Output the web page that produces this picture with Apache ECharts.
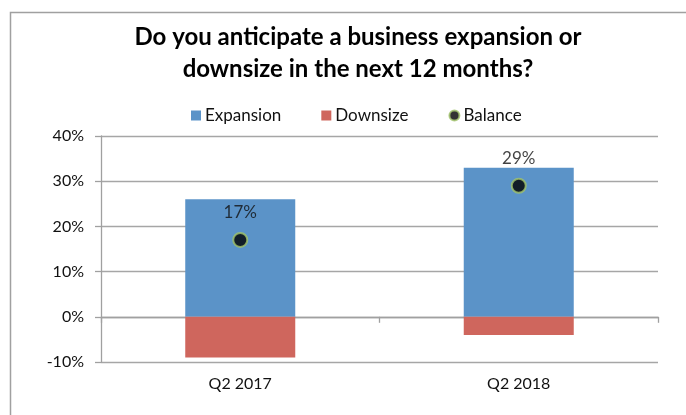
<!DOCTYPE html>
<html>
<head>
<meta charset="utf-8">
<script src="https://cdn.jsdelivr.net/npm/echarts@6/dist/echarts.min.js"></script>
<style>
  html, body { margin: 0; padding: 0; background: #fff; }
  #chart { width: 686px; height: 415px; }
</style>
</head>
<body>
<div id="chart"></div>
<script>
// Survey results per quarter (percent of respondents)
const categories = ['Q2 2017', 'Q2 2018'];
const expansion = [26, 33];
const downsize = [-9, -4];
const balance = [17, 29];
const yTicks = { min: -10, max: 40, step: 10 };

const FONT = 'Lato, "Open Sans", sans-serif';
const chart = echarts.init(document.getElementById('chart'));

chart.setOption({
  animation: false,
  backgroundColor: '#fff',
  textStyle: { fontFamily: FONT },
  graphic: [{
    type: 'rect',
    shape: { x: 10.5, y: 12.5, width: 720, height: 440 },
    style: { fill: 'none', stroke: '#a0a0a0', lineWidth: 1.5 },
    silent: true
  }],
  title: {
    text: 'Do you anticipate a business expansion or\ndownsize in the next 12 months?',
    left: 353,
    textAlign: 'center',
    top: 16,
    textStyle: { fontFamily: FONT, fontWeight: 'bold', fontSize: 24, lineHeight: 32, color: '#000' }
  },
  legend: {
    top: 102,
    left: 186,
    itemWidth: 10,
    itemHeight: 10,
    itemGap: 40,
    textStyle: { fontFamily: FONT, fontSize: 17, color: '#111', padding: [0, 0, 0, -1] },
    data: [
      { name: 'Expansion', icon: 'rect' },
      { name: 'Downsize', icon: 'rect' },
      { name: 'Balance', icon: 'circle' }
    ]
  },
  grid: { left: 101, right: 28, top: 136, bottom: 53 },
  xAxis: [{
    type: 'category',
    data: categories,
    position: 'bottom',
    axisLine: { show: false, onZero: false },
    axisTick: { show: false },
    axisLabel: { fontFamily: FONT, fontSize: 16, color: '#111', margin: 14 }
  }, {
    type: 'category',
    data: categories,
    position: 'bottom',
    axisLine: { show: true, onZero: true, lineStyle: { color: '#a0a0a0', width: 1.3 } },
    axisTick: { show: true, length: 6, lineStyle: { color: '#a0a0a0', width: 1.3 } },
    axisLabel: { show: false }
  }],
  yAxis: {
    type: 'value',
    min: yTicks.min,
    max: yTicks.max,
    interval: yTicks.step,
    axisLine: { show: true, lineStyle: { color: '#a0a0a0', width: 1.3 } },
    axisTick: { show: true, length: 6, lineStyle: { color: '#a0a0a0', width: 1.3 } },
    axisLabel: { formatter: '{value}%', fontFamily: FONT, fontSize: 16, color: '#111', margin: 17 },
    splitLine: { show: true, lineStyle: { color: '#a6a6a6', width: 1.3 } }
  },
  series: [{
    name: 'Expansion',
    type: 'bar',
    stack: 'total',
    barWidth: '39.5%',
    data: expansion,
    itemStyle: { color: '#5b93c8' }
  }, {
    name: 'Downsize',
    type: 'bar',
    stack: 'total',
    barWidth: '39.5%',
    data: downsize,
    itemStyle: { color: '#cf665d' }
  }, {
    name: 'Balance',
    type: 'scatter',
    data: balance,
    symbol: 'circle',
    symbolSize: 14,
    z: 5,
    itemStyle: { color: '#000', borderColor: '#a3c46b', borderWidth: 2 },
    label: {
      show: true,
      position: 'top',
      distance: 11,
      formatter: p => p.value + '%',
      fontFamily: FONT,
      fontSize: 17,
      color: '#111'
    }
  }]
});
</script>
</body>
</html>
